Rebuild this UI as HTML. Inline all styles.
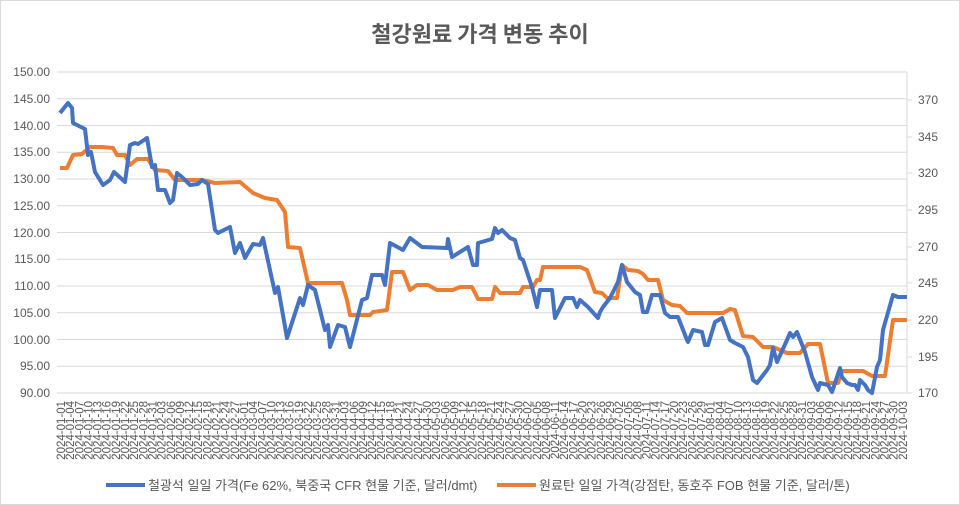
<!DOCTYPE html>
<html><head><meta charset="utf-8"><style>
html,body{margin:0;padding:0;background:#fff}
svg{display:block;font-family:"Liberation Sans","Noto Sans CJK KR",sans-serif}
</style></head><body>
<svg width="960" height="505" viewBox="0 0 960 505" xmlns="http://www.w3.org/2000/svg">
<rect x="0.5" y="0.5" width="959" height="504" fill="#fff" stroke="#d9d9d9"/>
<text x="480" y="42" text-anchor="middle" font-size="22" font-weight="bold" fill="#595959" font-family="'Noto Sans CJK KR',sans-serif">철강원료 가격 변동 추이</text>
<g stroke="#d9d9d9" stroke-width="1">
<line x1="57" x2="907" y1="72" y2="72"/><line x1="57" x2="907" y1="98.75" y2="98.75"/><line x1="57" x2="907" y1="125.5" y2="125.5"/><line x1="57" x2="907" y1="152.25" y2="152.25"/><line x1="57" x2="907" y1="179" y2="179"/><line x1="57" x2="907" y1="205.75" y2="205.75"/><line x1="57" x2="907" y1="232.5" y2="232.5"/><line x1="57" x2="907" y1="259.25" y2="259.25"/><line x1="57" x2="907" y1="286" y2="286"/><line x1="57" x2="907" y1="312.75" y2="312.75"/><line x1="57" x2="907" y1="339.5" y2="339.5"/><line x1="57" x2="907" y1="366.25" y2="366.25"/><line x1="57" x2="907" y1="393" y2="393"/>
<line x1="907" x2="907" y1="72" y2="393"/>
<line x1="907" x2="912" y1="100" y2="100"/><line x1="907" x2="912" y1="137" y2="137"/><line x1="907" x2="912" y1="173" y2="173"/><line x1="907" x2="912" y1="210" y2="210"/><line x1="907" x2="912" y1="247" y2="247"/><line x1="907" x2="912" y1="283" y2="283"/><line x1="907" x2="912" y1="320" y2="320"/><line x1="907" x2="912" y1="357" y2="357"/><line x1="907" x2="912" y1="393" y2="393"/>
</g>
<g font-size="12" fill="#595959" text-anchor="end">
<text x="50" y="76">150.00</text><text x="50" y="103">145.00</text><text x="50" y="130">140.00</text><text x="50" y="156">135.00</text><text x="50" y="183">130.00</text><text x="50" y="210">125.00</text><text x="50" y="237">120.00</text><text x="50" y="263">115.00</text><text x="50" y="290">110.00</text><text x="50" y="317">105.00</text><text x="50" y="344">100.00</text><text x="50" y="370">95.00</text><text x="50" y="397">90.00</text>
</g>
<g font-size="12" fill="#595959">
<text x="918" y="104">370</text><text x="918" y="141">345</text><text x="918" y="177">320</text><text x="918" y="214">295</text><text x="918" y="251">270</text><text x="918" y="287">245</text><text x="918" y="324">220</text><text x="918" y="361">195</text><text x="918" y="397">170</text>
</g>
<polyline fill="none" stroke="#ED7D31" stroke-width="4" stroke-linejoin="round" points="60,168 67,168 73,155 82,154 90,147 102,147 113,148 117,155 125,155 130,165 137,159 148,159 155,170 168,171 175,180 202,180 215,183 240,182 253,193 265,198 277,200 285,212 288,247 300,248 308,283 342,283 347,300 350,315 370,315 373,312 387,310 392,272 403,272 410,290 417,285 428,285 437,290 453,290 460,287 472,287 478,299 492,299 495,287 500,293 520,293 523,287 533,287 537,280 540,280 543,267 580,267 587,270 595,292 602,293 607,298 617,298 622,265 628,270 638,271 643,274 648,280 658,280 663,300 672,305 680,306 687,313 723,313 730,309 735,310 743,336 753,337 763,347 773,347 787,353 800,353 808,344 820,344 828,383 838,383 842,371 863,371 872,376 885,376 893,320 907,320"/>
<polyline fill="none" stroke="#4472C4" stroke-width="4" stroke-linejoin="round" points="60,113 68,103 72,108 73,123 85,129 88,155 91,152 95,172 103,185 110,180 114,172 125,182 130,145 135,143 138,144 147,138 152,167 155,165 158,190 165,190 170,203 173,200 177,173 182,177 190,185 198,184 202,180 208,184 215,230 218,233 230,227 235,253 240,243 245,258 253,244 260,245 263,238 275,293 278,287 287,338 300,298 303,305 308,285 315,290 325,330 328,325 330,347 338,325 345,327 350,347 362,300 367,298 372,275 382,275 385,285 390,243 403,250 410,238 422,247 447,248 448,239 452,257 468,247 473,265 477,265 478,243 492,239 495,228 498,233 502,230 510,238 515,240 520,258 523,260 532,287 537,307 540,290 552,290 555,318 565,298 573,298 577,307 580,300 588,307 598,318 600,312 603,307 610,298 618,282 622,265 627,282 635,292 640,295 643,312 647,312 652,295 660,295 665,313 670,317 678,317 687,340 688,342 693,330 702,332 705,345 708,345 715,322 722,318 730,340 735,343 743,347 748,357 753,380 757,383 767,370 770,365 773,348 777,362 787,340 790,333 793,337 797,332 805,352 812,377 818,390 820,383 828,385 832,392 840,368 842,377 847,383 852,385 855,385 858,390 860,380 865,385 868,390 872,393 877,367 880,360 883,330 893,295 898,297 907,297"/>
<g font-size="11.5" fill="#595959" text-anchor="end">
<text transform="translate(65,401) rotate(-90)">2024-01-01</text><text transform="translate(74.1,401) rotate(-90)">2024-01-04</text><text transform="translate(83.3,401) rotate(-90)">2024-01-07</text><text transform="translate(92.4,401) rotate(-90)">2024-01-10</text><text transform="translate(101.6,401) rotate(-90)">2024-01-13</text><text transform="translate(110.7,401) rotate(-90)">2024-01-16</text><text transform="translate(119.9,401) rotate(-90)">2024-01-19</text><text transform="translate(129,401) rotate(-90)">2024-01-22</text><text transform="translate(138.2,401) rotate(-90)">2024-01-25</text><text transform="translate(147.3,401) rotate(-90)">2024-01-28</text><text transform="translate(156.5,401) rotate(-90)">2024-01-31</text><text transform="translate(165.6,401) rotate(-90)">2024-02-03</text><text transform="translate(174.8,401) rotate(-90)">2024-02-06</text><text transform="translate(183.9,401) rotate(-90)">2024-02-09</text><text transform="translate(193.1,401) rotate(-90)">2024-02-12</text><text transform="translate(202.2,401) rotate(-90)">2024-02-15</text><text transform="translate(211.4,401) rotate(-90)">2024-02-18</text><text transform="translate(220.5,401) rotate(-90)">2024-02-21</text><text transform="translate(229.7,401) rotate(-90)">2024-02-24</text><text transform="translate(238.8,401) rotate(-90)">2024-02-27</text><text transform="translate(248,401) rotate(-90)">2024-03-01</text><text transform="translate(257.1,401) rotate(-90)">2024-03-04</text><text transform="translate(266.3,401) rotate(-90)">2024-03-07</text><text transform="translate(275.4,401) rotate(-90)">2024-03-10</text><text transform="translate(284.6,401) rotate(-90)">2024-03-13</text><text transform="translate(293.7,401) rotate(-90)">2024-03-16</text><text transform="translate(302.9,401) rotate(-90)">2024-03-19</text><text transform="translate(312,401) rotate(-90)">2024-03-22</text><text transform="translate(321.2,401) rotate(-90)">2024-03-25</text><text transform="translate(330.3,401) rotate(-90)">2024-03-28</text><text transform="translate(339.5,401) rotate(-90)">2024-03-31</text><text transform="translate(348.6,401) rotate(-90)">2024-04-03</text><text transform="translate(357.8,401) rotate(-90)">2024-04-06</text><text transform="translate(366.9,401) rotate(-90)">2024-04-09</text><text transform="translate(376.1,401) rotate(-90)">2024-04-12</text><text transform="translate(385.2,401) rotate(-90)">2024-04-15</text><text transform="translate(394.4,401) rotate(-90)">2024-04-18</text><text transform="translate(403.5,401) rotate(-90)">2024-04-21</text><text transform="translate(412.7,401) rotate(-90)">2024-04-24</text><text transform="translate(421.8,401) rotate(-90)">2024-04-27</text><text transform="translate(431,401) rotate(-90)">2024-04-30</text><text transform="translate(440.1,401) rotate(-90)">2024-05-03</text><text transform="translate(449.3,401) rotate(-90)">2024-05-06</text><text transform="translate(458.4,401) rotate(-90)">2024-05-09</text><text transform="translate(467.6,401) rotate(-90)">2024-05-12</text><text transform="translate(476.7,401) rotate(-90)">2024-05-15</text><text transform="translate(485.9,401) rotate(-90)">2024-05-18</text><text transform="translate(495,401) rotate(-90)">2024-05-21</text><text transform="translate(504.2,401) rotate(-90)">2024-05-24</text><text transform="translate(513.3,401) rotate(-90)">2024-05-27</text><text transform="translate(522.5,401) rotate(-90)">2024-05-30</text><text transform="translate(531.6,401) rotate(-90)">2024-06-02</text><text transform="translate(540.8,401) rotate(-90)">2024-06-05</text><text transform="translate(549.9,401) rotate(-90)">2024-06-08</text><text transform="translate(559.1,401) rotate(-90)">2024-06-11</text><text transform="translate(568.2,401) rotate(-90)">2024-06-14</text><text transform="translate(577.4,401) rotate(-90)">2024-06-17</text><text transform="translate(586.5,401) rotate(-90)">2024-06-20</text><text transform="translate(595.7,401) rotate(-90)">2024-06-23</text><text transform="translate(604.8,401) rotate(-90)">2024-06-26</text><text transform="translate(614,401) rotate(-90)">2024-06-29</text><text transform="translate(623.1,401) rotate(-90)">2024-07-02</text><text transform="translate(632.3,401) rotate(-90)">2024-07-05</text><text transform="translate(641.4,401) rotate(-90)">2024-07-08</text><text transform="translate(650.6,401) rotate(-90)">2024-07-11</text><text transform="translate(659.7,401) rotate(-90)">2024-07-14</text><text transform="translate(668.9,401) rotate(-90)">2024-07-17</text><text transform="translate(678,401) rotate(-90)">2024-07-20</text><text transform="translate(687.2,401) rotate(-90)">2024-07-23</text><text transform="translate(696.3,401) rotate(-90)">2024-07-26</text><text transform="translate(705.5,401) rotate(-90)">2024-07-29</text><text transform="translate(714.6,401) rotate(-90)">2024-08-01</text><text transform="translate(723.8,401) rotate(-90)">2024-08-04</text><text transform="translate(732.9,401) rotate(-90)">2024-08-07</text><text transform="translate(742.1,401) rotate(-90)">2024-08-10</text><text transform="translate(751.2,401) rotate(-90)">2024-08-13</text><text transform="translate(760.4,401) rotate(-90)">2024-08-16</text><text transform="translate(769.5,401) rotate(-90)">2024-08-19</text><text transform="translate(778.7,401) rotate(-90)">2024-08-22</text><text transform="translate(787.8,401) rotate(-90)">2024-08-25</text><text transform="translate(797,401) rotate(-90)">2024-08-28</text><text transform="translate(806.1,401) rotate(-90)">2024-08-31</text><text transform="translate(815.3,401) rotate(-90)">2024-09-03</text><text transform="translate(824.4,401) rotate(-90)">2024-09-06</text><text transform="translate(833.6,401) rotate(-90)">2024-09-09</text><text transform="translate(842.7,401) rotate(-90)">2024-09-12</text><text transform="translate(851.9,401) rotate(-90)">2024-09-15</text><text transform="translate(861,401) rotate(-90)">2024-09-18</text><text transform="translate(870.2,401) rotate(-90)">2024-09-21</text><text transform="translate(879.3,401) rotate(-90)">2024-09-24</text><text transform="translate(888.5,401) rotate(-90)">2024-09-27</text><text transform="translate(897.6,401) rotate(-90)">2024-09-30</text><text transform="translate(906.8,401) rotate(-90)">2024-10-03</text>
</g>
<line x1="106" x2="145" y1="485" y2="485" stroke="#4472C4" stroke-width="4"/>
<text x="148" y="490" font-size="13" fill="#595959">철광석 일일 가격(Fe 62%, 북중국 CFR 현물 기준, 달러/dmt)</text>
<line x1="497" x2="536" y1="485" y2="485" stroke="#ED7D31" stroke-width="4"/>
<text x="539" y="490" font-size="13" fill="#595959">원료탄 일일 가격(강점탄, 동호주 FOB 현물 기준, 달러/톤)</text>
</svg>
</body></html>
